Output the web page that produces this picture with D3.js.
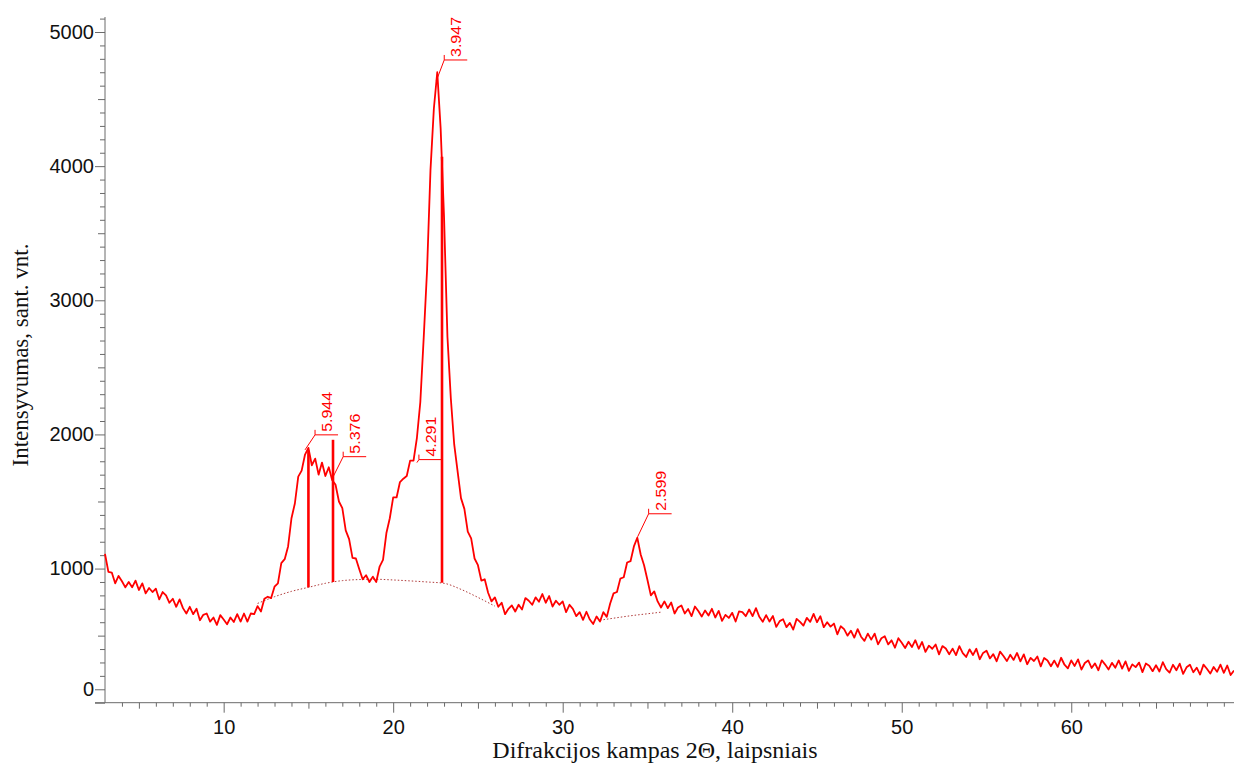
<!DOCTYPE html>
<html>
<head>
<meta charset="utf-8">
<script src="https://cdn.jsdelivr.net/npm/d3@7"></script>
<style>
  html, body { margin: 0; padding: 0; background: #fff; }
  svg { display: block; }
</style>
</head>
<body>
<div id="chartContainer"></div>
<script>
// scan: 2θ from 3° in 0.2° steps, intensity
const twoThetaStart = 3
const twoThetaStep = 0.2
const intensity = [
  1110,975,970,890,945,905,860,900,860,910,
  840,890,815,855,825,850,770,825,800,745,
  775,715,770,705,665,715,660,700,615,655,
  665,605,635,580,653,620,585,635,602,660,
  605,665,605,665,660,720,680,775,790,780,
  865,890,1040,1070,1165,1375,1485,1685,1730,1850,
  1900,1770,1820,1700,1790,1690,1755,1660,1625,1500,
  1450,1285,1220,1080,1075,995,920,950,900,940,
  900,1015,1065,1265,1375,1530,1530,1645,1670,1690,
  1805,1805,1975,2240,2720,3230,3970,4430,4700,4280,
  3620,2730,2270,1925,1725,1525,1445,1275,1225,1075,
  1025,910,920,820,755,785,715,745,660,700,
  725,680,730,695,780,760,730,785,753,810,
  745,795,717,760,730,755,675,730,700,645,
  675,618,678,620,587,643,605,675,640,740,
  815,825,925,935,1045,1055,1165,1230,1105,1025,
  915,800,830,755,710,755,705,747,665,710,
  725,665,698,645,717,683,642,688,650,700,
  635,685,610,655,632,670,605,680,675,645,
  695,645,705,640,603,653,605,647,565,608,
  622,563,595,545,625,603,575,632,603,662,
  600,645,563,600,567,590,510,570,548,500,
  537,485,548,492,461,515,470,515,435,480,
  495,435,465,410,481,447,408,454,415,466,
  402,453,379,425,402,434,360,422,404,361,
  403,355,422,369,341,398,355,402,324,371,
  388,330,362,309,381,348,310,357,319,371,
  308,360,287,334,311,344,271,333,315,272,
  314,267,335,283,256,315,274,323,247,296,
  315,259,293,242,316,284,248,297,261,315,
  254,308,237,286,265,299,228,292,276,235,
  279,233,302,251,225,283,242,291,215,264,
  283,227,261,210,284,253,217,266,230,284,
  223,277,206,240
]

// background (amorphous halo) estimates, dotted
const halo1 = [[12.0,740],[13,790],[14,830],[15,860],[16,890],[17,910],[18,918],[19,920],[20,915],[21,908],[22,900],[23,890],[24,845],[25,785],[26,720]]
const halo2 = [[32.2,615],[33,630],[34,648],[35,663],[35.8,675]]

// stick markers: 2θ, bottom, top
const sticks = [[15.0,860,1880],[16.45,900,1960],[22.88,895,4070]]

// d-spacing labels at the peak they point to
const peakD = ["5.944","5.376","4.291","3.947","2.599"]
const peakTheta = [14.8,16.46,21.4,22.54,34.42]
const peakI = [1885,1685,1790,4635,1237]

const yLabelValues = [100,1000,2000,3000,4000,5000]
const yLabelText = ["0","1000","2000","3000","4000","5000"]
const xLabelValues = [10,20,30,40,50,60]

const width = 1234, height = 767
const margin = {top: 17, right: 0, bottom: 64, left: 105}

const x = d3.scaleLinear()
    .domain([3, 69.6])
    .range([margin.left, width - margin.right])

const y = d3.scaleLinear()
    .domain([0, 5100])
    .range([height - margin.bottom - 0.3, 18.6])

const svg = d3.select('#chartContainer')
  .append('svg')
  .attr('width', width)
  .attr('height', height)
  .style('font-family', '"Open Sans", "Noto Sans", sans-serif')

const axisColor = '#6a6a6a'

// y axis, minor every 100
let yAxis = d3.axisLeft(y)
    .tickValues(d3.range(0, 5101, 100))
    .tickFormat(v => {
      let i = yLabelValues.indexOf(v)
      return i < 0 ? '' : yLabelText[i]
    })

let gy = svg.append('g')
    .attr('transform', `translate(${margin.left},0)`)
    .call(yAxis)
gy.select('.domain').attr('stroke', axisColor).attr('d', `M0,${margin.top}V${y(0)}`)
gy.selectAll('.tick line')
    .attr('stroke', axisColor)
    .attr('x2', v => (v % 1000 === 0 || v === 100) ? -10 : (v % 500 === 0 ? -7 : -5))
gy.selectAll('.tick text')
    .attr('x', -11)
    .attr('fill', '#111')
    .style('font-size', '20px')

// x axis, minor every 1°
let xAxis = d3.axisBottom(x)
    .tickValues(d3.range(4, 70, 1))
    .tickFormat(v => xLabelValues.includes(v) ? String(v) : '')

let gx = svg.append('g')
    .attr('transform', `translate(0,${y(0)})`)
    .call(xAxis)
gx.select('.domain').attr('stroke', axisColor).attr('d', `M${margin.left - 10},0H${width}`)
gx.selectAll('.tick line')
    .attr('stroke', axisColor)
    .attr('y2', v => v % 10 === 0 ? 10 : (v % 5 === 0 ? 6 : 4))
gx.selectAll('.tick text')
    .attr('y', 17)
    .attr('fill', '#111')
    .style('font-size', '20px')

// axis titles
svg.append('text')
    .attr('x', 655)
    .attr('y', 758)
    .attr('text-anchor', 'middle')
    .style('font-family', '"Liberation Serif", "DejaVu Serif", serif')
    .style('font-size', '24px')
    .attr('fill', '#111')
    .text('Difrakcijos kampas 2Θ, laipsniais')

svg.append('text')
    .attr('transform', 'translate(28,355) rotate(-90)')
    .attr('text-anchor', 'middle')
    .style('font-family', '"Liberation Serif", "DejaVu Serif", serif')
    .style('font-size', '23px')
    .attr('fill', '#111')
    .text('Intensyvumas, sant. vnt.')

// dotted background curves
let haloLine = d3.line()
    .curve(d3.curveMonotoneX)
    .x(d => x(d[0]))
    .y(d => y(d[1]))

svg.append('g')
  .selectAll('path')
  .data([halo1, halo2])
  .join('path')
    .attr('fill', 'none')
    .attr('stroke', '#b03a3a')
    .attr('stroke-width', 1)
    .attr('stroke-dasharray', '1.5,2')
    .attr('d', haloLine)

// the scan
let scan = d3.line()
    .x((d, i) => x(twoThetaStart + i * twoThetaStep))
    .y(d => y(d))

svg.append('path')
    .datum(intensity)
    .attr('fill', 'none')
    .attr('stroke', '#ff0000')
    .attr('stroke-width', 1.8)
    .attr('stroke-linejoin', 'round')
    .attr('d', scan)

// stick markers
svg.append('g')
  .selectAll('line')
  .data(sticks)
  .join('line')
    .attr('x1', d => x(d[0]))
    .attr('x2', d => x(d[0]))
    .attr('y1', d => y(d[1]))
    .attr('y2', d => y(d[2]))
    .attr('stroke', '#ff0000')
    .attr('stroke-width', 2.6)

// peak labels with leaders
const leadDx = [10, 10, 2, 8, 11]
const leadDy = [-15, -20, -3, -21, -23]

let lab = svg.append('g')
  .selectAll('g')
  .data(peakD)
  .join('g')
    .attr('transform', (d, i) => `translate(${x(peakTheta[i])},${y(peakI[i])})`)

lab.append('path')
    .attr('fill', 'none')
    .attr('stroke', '#ff0000')
    .attr('stroke-width', 1)
    .attr('d', (d, i) => {
      let bx = leadDx[i], by = leadDy[i]
      return `M0,0L${bx},${by}M${bx},${by - 5}V${by}H${bx + 23}`
    })

lab.append('text')
    .attr('transform', (d, i) => `translate(${leadDx[i] + 17},${leadDy[i] - 3}) rotate(-90)`)
    .attr('fill', '#ff0000')
    .style('font-family', '"Liberation Sans", Arial, sans-serif')
    .style('font-size', '14px')
    .attr('textLength', 40)
    .attr('lengthAdjust', 'spacingAndGlyphs')
    .text(d => d)
</script>
</body>
</html>
